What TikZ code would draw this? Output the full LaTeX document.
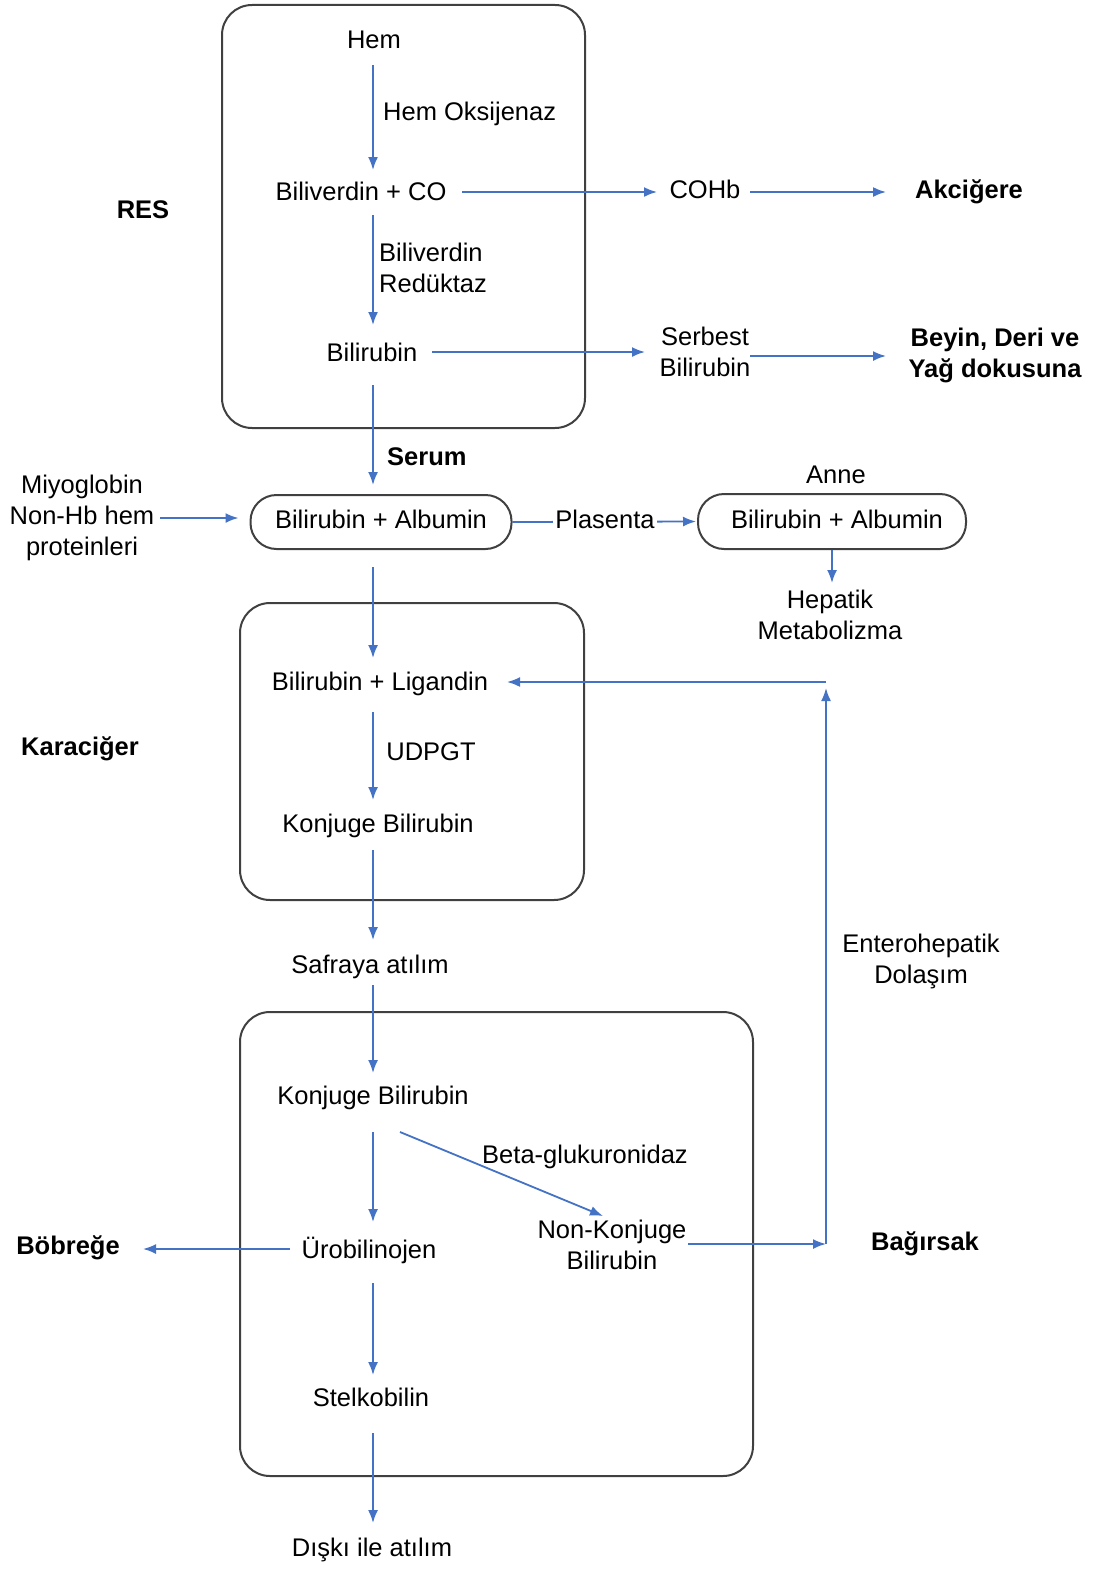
\documentclass[tikz,border=0pt]{standalone}
\usepackage{fontspec}
\setmainfont{Liberation Sans}
\usetikzlibrary{arrows.meta,calc}
\definecolor{flow}{HTML}{4472C4}
\definecolor{frame}{HTML}{404040}
\begin{document}
\begin{tikzpicture}[x=1pt,y=-1pt,
  txt/.style={inner sep=0pt, align=center, font=\fontsize{25.5}{31}\selectfont},
  one/.style={txt, text height=18pt, text depth=5pt},
  bold/.style={txt, font=\fontsize{25.5}{31}\selectfont\bfseries},
  bone/.style={bold, text height=18pt, text depth=5pt},
  arr/.style={draw=flow, line width=1.8pt, -{Latex[length=13pt,width=10pt]}},
  region/.style={draw=frame, line width=2pt, rounded corners=30pt},
  pill/.style={draw=frame, line width=2pt, rounded corners=26pt, inner sep=0pt,
     text height=18pt, text depth=5pt, font=\fontsize{25.5}{31}\selectfont}]
\useasboundingbox (0,0) rectangle (1094,1571);
% region frames
\draw[region] (222,5) rectangle (585,428);
\draw[region] (240,603) rectangle (584,900);
\draw[region] (240,1012) rectangle (753,1476);
\coordinate (spine) at (373,0);
% nodes
\node[one] (hem) at (374,42) {Hem};
\node[one, anchor=west] (hemox) at (383,114) {Hem Oksijenaz};
\node[one] (bcv) at (361,194) {Biliverdin + CO};
\node[one] (cohb) at (705,192) {COHb};
\node[bone] (akc) at (969,192) {Akciğere};
\node[bone] (res) at (143,212) {RES};
\node[txt, anchor=west, align=left] (bvr) at (379,268) {Biliverdin\\Redüktaz};
\node[one] (bil) at (372,355) {Bilirubin};
\node[txt] (serb) at (705,352) {Serbest\\Bilirubin};
\node[bold] (beyin) at (995,355) {Beyin, Deri ve\\Yağ dokusuna};
\node[bone, anchor=west] (serum) at (387,459) {Serum};
\node[one] (anne) at (836,477) {Anne};
\node[txt] (miyo) at (82,518) {Miyoglobin\\Non-Hb hem\\proteinleri};
\node[pill, minimum width=261pt, minimum height=54pt] (ba1) at (381,522) {Bilirubin + Albumin};
\node[pill, minimum width=268pt, minimum height=55pt] (ba2) at (832,521.5) {\hspace{10pt}Bilirubin + Albumin};
\node[txt] (hep) at (830,615) {Hepatik\\Metabolizma};
\node[one] (lig) at (380,684) {Bilirubin + Ligandin};
\node[bone] (kar) at (80,749) {Karaciğer};
\node[one] (udpgt) at (431,754) {UDPGT};
\node[one] (kb1) at (378,826) {Konjuge Bilirubin};
\node[one] (saf) at (370,967) {Safraya atılım};
\node[txt] (entero) at (921,961) {Enterohepatik\\Dolaşım};
\node[one] (kb2) at (373,1098) {Konjuge Bilirubin};
\node[one] (beta) at (585,1157) {Beta-glukuronidaz};
\node[txt] (nk) at (612,1245) {Non-Konjuge\\Bilirubin};
\node[one] (uro) at (369,1252) {Ürobilinojen};
\node[bone] (bob) at (68,1248) {Böbreğe};
\node[bone] (bag) at (925,1244) {Bağırsak};
\node[one] (stel) at (371,1400) {Stelkobilin};
\node[one] (disk) at (372,1550) {Dışkı ile atılım};
\coordinate (c1) at (826,1244);
\coordinate (c2) at (826,682);
% connectors
\draw[arr, shorten <=23pt, shorten >=24pt] (spine |- hem) -- (spine |- bcv);
\draw[arr, shorten <=21pt, shorten >=30pt] (spine |- bcv) -- (spine |- bil);
\draw[arr, shorten <=101pt, shorten >=48pt] ([yshift=2pt]bcv.center) -- ([yshift=2pt]bcv.center -| cohb.center);
\draw[arr, shorten <=45pt, shorten >=83pt] (cohb.center) -- (akc.center);
\draw[arr, shorten <=60pt, shorten >=60pt] ([yshift=3pt]bil.center) -- ([yshift=3pt]bil.center -| serb.center);
\draw[arr, shorten <=45pt, shorten >=109pt] ([yshift=-4pt]serb.center) -- ([yshift=-4pt]serb.center -| beyin.center);
\draw[arr, shorten <=30pt, shorten >=37pt] (spine |- bil) -- (spine |- ba1);
\draw[arr, shorten <=78pt, shorten >=11pt] (miyo.center) -- (miyo.center -| ba1.west);
\draw[arr, shorten >=1pt] (ba1.east) -- (ba2.west);
\node[one, fill=white, inner xsep=2pt, inner ysep=0pt] (plas) at (605,522) {Plasenta};
\draw[arr, shorten >=32pt] (ba2.south) -- (ba2.south |- hep.center);
\draw[arr, shorten <=45pt, shorten >=26pt] (spine |- ba1) -- (spine |- lig);
\draw[arr, shorten <=28pt, shorten >=26pt] (spine |- lig) -- (spine |- kb1);
\draw[arr, shorten <=24pt, shorten >=27pt] (spine |- kb1) -- (spine |- saf);
\draw[arr, shorten <=18pt, shorten >=25pt] (spine |- saf) -- (spine |- kb2);
\draw[arr, shorten <=34pt, shorten >=30pt] (spine |- kb2) -- (spine |- uro);
\draw[arr] ($(kb2.center)+(27,34)$) -- ($(nk.center)+(-9,-29)$);
\draw[arr, shorten <=79pt, shorten >=75pt] ([yshift=3pt]uro.center) -- ([yshift=3pt]uro.center -| bob.center);
\draw[arr, shorten <=31pt, shorten >=25pt] (spine |- uro) -- (spine |- stel);
\draw[arr, shorten <=33pt, shorten >=27pt] (spine |- stel) -- (spine |- disk);
\draw[arr, shorten <=76pt] (nk.center |- c1) -- (c1);
\draw[arr, shorten >=6pt] (c1) -- (c2);
\draw[arr, shorten >=127pt] (c2) -- (c2 -| lig.center);
\end{tikzpicture}
\end{document}
